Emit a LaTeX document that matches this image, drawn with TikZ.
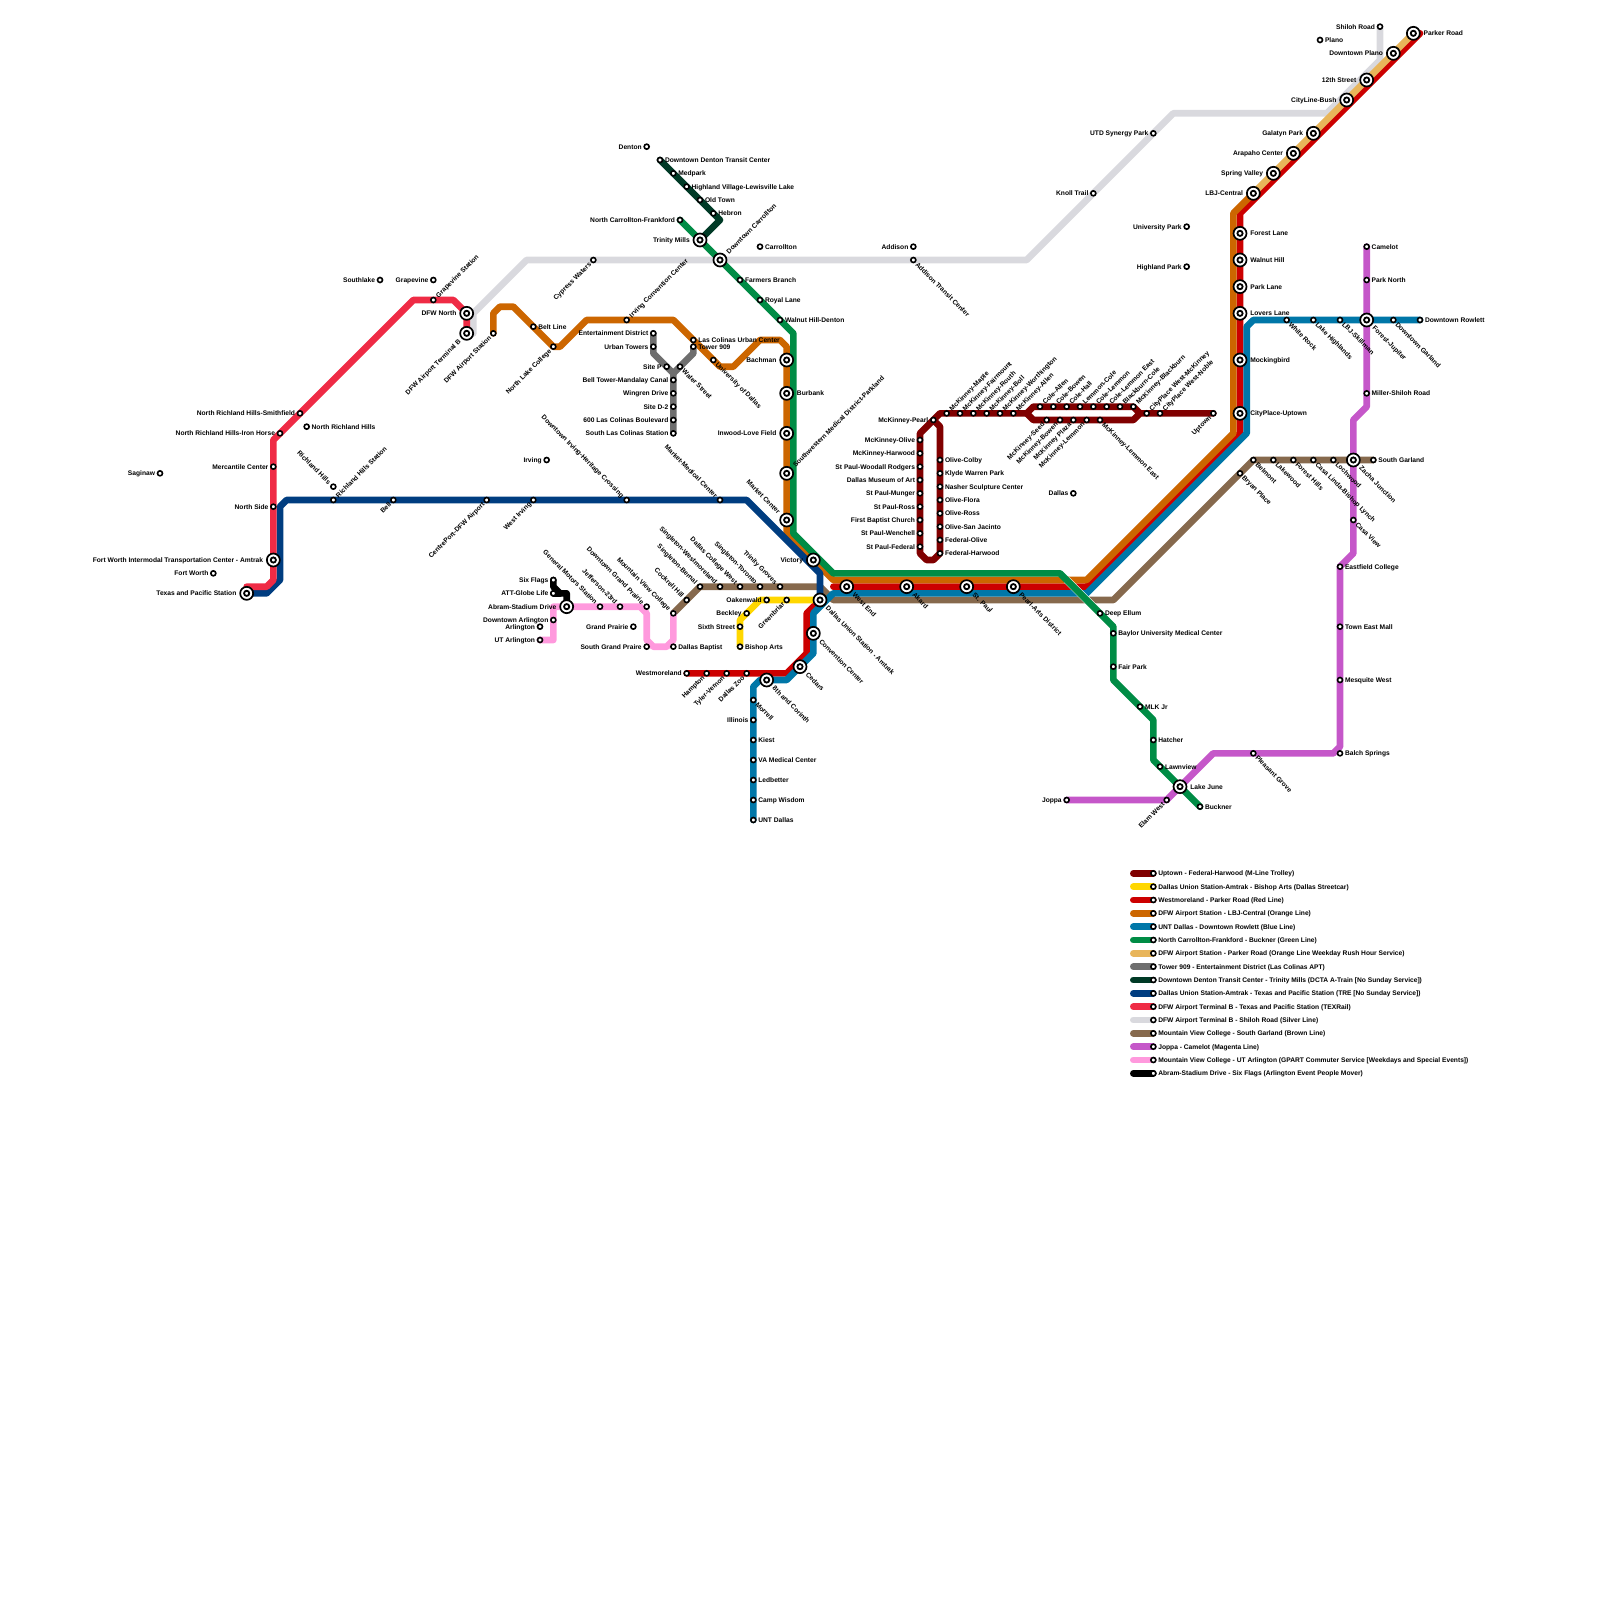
\documentclass[tikz,border=0pt]{standalone}
\usepackage{fontspec}
\setmainfont{Liberation Sans}
\definecolor{cTrolley}{HTML}{800000}
\definecolor{cYellow}{HTML}{FFD700}
\definecolor{cRed}{HTML}{CC0000}
\definecolor{cOrange}{HTML}{CC6600}
\definecolor{cBlue}{HTML}{0077A8}
\definecolor{cGreen}{HTML}{008C45}
\definecolor{cRush}{HTML}{E8B55A}
\definecolor{cApt}{HTML}{6E6E6E}
\definecolor{cDcta}{HTML}{003A26}
\definecolor{cTre}{HTML}{003D80}
\definecolor{cTex}{HTML}{EF2B45}
\definecolor{cSilver}{HTML}{D9D9DE}
\definecolor{cBrown}{HTML}{86694D}
\definecolor{cMagenta}{HTML}{C557C9}
\definecolor{cPink}{HTML}{FF99DD}
\pgfdeclarelayer{lines}
\pgfsetlayers{lines,main}
\tikzset{
  route/.style={draw=#1,line width=6.667pt,line cap=round,line join=round},
  sm/.style={circle,draw=black,fill=white,line width=1.6pt,minimum size=5pt,inner sep=0pt,outer sep=0pt},
  bigo/.style={circle,draw=black,fill=white,line width=1.7pt,minimum size=13pt,inner sep=0pt,outer sep=0pt},
  bigi/.style={circle,draw=black,fill=white,line width=1.8pt,minimum size=5.2pt,inner sep=0pt,outer sep=0pt},
  lab/.style={font=\fontsize{6.667}{8}\selectfont\bfseries,text=black,inner xsep=5pt,inner ysep=0pt,outer sep=0pt,yshift=0.3pt},
  biglab/.style={inner xsep=10.3pt},
  posL/.style={anchor=mid east},
  posR/.style={anchor=mid west},
  posUL/.style={rotate=-45,anchor=mid east},
  posUR/.style={rotate=45,anchor=mid west},
  posLL/.style={rotate=45,anchor=mid east},
  posLR/.style={rotate=-45,anchor=mid west},
}
\newcommand{\st}[4]{\node[sm] (#1) at (#2) {}; \node[lab,#3] (#1t) at (#1.center) {#4};}
\newcommand{\ic}[4]{\node[bigo] (#1) at (#2) {}; \node[bigi] (#1i) at (#1.center) {}; \node[lab,biglab,#3] (#1t) at (#1.center) {#4};}
\newcommand{\leg}[4]{\coordinate (#1s) at (170,#2); \node[sm] (#1) at (173,#2) {}; \node[lab,posR] (#1t) at (#1.center) {#4};
  \begin{pgfonlayer}{lines}\draw[route=#3] (#1s) -- (#1.center);\end{pgfonlayer}}
\begin{document}
\begin{tikzpicture}[x=6.66667pt,y=-6.66667pt]
\useasboundingbox (0,0) rectangle (240,240);
% West
\st{southlake}{57,42}{posL}{Southlake}
\st{grapevine}{65,42}{posL}{Grapevine}
\st{grapest}{65,45}{posUR}{Grapevine Station}
\ic{dfwn}{70,47}{posL}{DFW North}
\ic{dfwb}{70,50}{posLL}{DFW Airport Terminal B}
\st{dfwa}{74,50}{posLL}{DFW Airport Station}
\st{beltl}{80,49}{posR}{Belt Line}
\st{nlake}{83,52}{posLL}{North Lake College}
\st{cypress}{89,39}{posLL}{Cypress Waters}
\st{nrhs}{45,62}{posL}{North Richland Hills-Smithfield}
\st{nrh}{46,64}{posR}{North Richland Hills}
\st{nrhi}{42,65}{posL}{North Richland Hills-Iron Horse}
\st{merc}{41,70}{posL}{Mercantile Center}
\st{saginaw}{24,71}{posL}{Saginaw}
\st{richh}{50,73}{posUL}{Richland Hills}
\st{richs}{50,75}{posUR}{Richland Hills Station}
\st{bell}{59,75}{posLL}{Bell}
\st{centre}{73,75}{posLL}{CentrePort-DFW Airport}
\st{wirving}{80,75}{posLL}{West Irving}
\st{nside}{41,76}{posL}{North Side}
\st{irving}{82,69}{posL}{Irving}
\ic{fwit}{41,84}{posL}{Fort Worth Intermodal Transportation Center - Amtrak}
\st{fw}{32,86}{posL}{Fort Worth}
\ic{tp}{37,89}{posL}{Texas and Pacific Station}
\st{six}{83,87}{posL}{Six Flags}
\st{att}{83,89}{posL}{ATT-Globe Life}
\ic{abram}{85,91}{posL}{Abram-Stadium Drive}
\st{dtarl}{83,93}{posL}{Downtown Arlington}
\st{arl}{81,94}{posL}{Arlington}
\st{utarl}{81,96}{posL}{UT Arlington}
\st{gm}{90,91}{posUL}{General Motors Station}
% North
\st{denton}{97,22}{posL}{Denton}
\st{dtden}{99,24}{posR}{Downtown Denton Transit Center}
\st{medpark}{101,26}{posR}{Medpark}
\st{highl}{103,28}{posR}{Highland Village-Lewisville Lake}
\st{oldtown}{105,30}{posR}{Old Town}
\st{hebron}{107,32}{posR}{Hebron}
\st{ncf}{102,33}{posL}{North Carrollton-Frankford}
\ic{trinity}{105,36}{posL}{Trinity Mills}
\ic{dtcar}{108,39}{posUR}{Downtown Carrollton}
\st{carr}{114,37}{posR}{Carrollton}
\st{addison}{137,37}{posL}{Addison}
\st{addtc}{137,39}{posLR}{Addison Transit Center}
\st{farmers}{111,42}{posR}{Farmers Branch}
\st{royal}{114,45}{posR}{Royal Lane}
\st{wnutd}{117,48}{posR}{Walnut Hill-Denton}
\st{ircc}{94,48}{posUR}{Irving Convention Center}
\st{ent}{98,50}{posL}{Entertainment District}
\st{urban}{98,52}{posL}{Urban Towers}
\st{sitep}{100,55}{posL}{Site P}
\st{water}{102,55}{posLR}{Water Street}
\st{lcuc}{104,51}{posR}{Las Colinas Urban Center}
\st{tower}{104,52}{posR}{Tower 909}
\st{uod}{107,54}{posLR}{University of Dallas}
\ic{bachman}{118,54}{posL}{Bachman}
\ic{burbank}{118,59}{posR}{Burbank}
\ic{inwood}{118,65}{posL}{Inwood-Love Field}
\ic{swmed}{118,71}{posUR}{Southwestern Medical District-Parkland}
\st{belltw}{101,57}{posL}{Bell Tower-Mandalay Canal}
\st{wingren}{101,59}{posL}{Wingren Drive}
\st{sited}{101,61}{posL}{Site D-2}
\st{lc600}{101,63}{posL}{600 Las Colinas Boulevard}
\st{slc}{101,65}{posL}{South Las Colinas Station}
% Centre
\st{dtirv}{94,75}{posUL}{Downtown Irving-Heritage Crossing}
\st{mktmed}{108,75}{posUL}{Market-Medical Center}
\ic{market}{118,78}{posUL}{Market Center}
\ic{victory}{122,84}{posL}{Victory}
\st{tgrove}{117,88}{posUL}{Trinity Groves}
\st{storonto}{114,88}{posUL}{Singleton-Toronto}
\st{dcw}{111,88}{posUL}{Dallas College West}
\st{swest}{108,88}{posUL}{Singleton-Westmoreland}
\st{sbern}{105,88}{posUL}{Singleton-Bernal}
\st{cockrell}{103,90}{posUL}{Cockrell Hill}
\st{mvc}{101,92}{posUL}{Mountain View College}
\st{dtgp}{97,91}{posUL}{Downtown Grand Prairie}
\st{jeff}{93,91}{posUL}{Jefferson-23rd}
\st{gp}{95,94}{posL}{Grand Prairie}
\st{sgp}{97,97}{posL}{South Grand Praire}
\st{dbap}{101,97}{posR}{Dallas Baptist}
\st{oak}{115,90}{posL}{Oakenwald}
\st{green}{118,90}{posLL}{Greenbriar}
\st{beckley}{112,92}{posL}{Beckley}
\st{sixth}{111,94}{posL}{Sixth Street}
\st{bishop}{111,97}{posR}{Bishop Arts}
\ic{union}{123,90}{posLR}{Dallas Union Station - Amtrak}
\ic{conv}{122,95}{posLR}{Convention Center}
\ic{cedars}{120,100}{posLR}{Cedars}
\ic{eighth}{115,102}{posLR}{8th and Corinth}
\st{westm}{103,101}{posL}{Westmoreland}
\st{hampton}{106,101}{posLL}{Hampton}
\st{tyler}{109,101}{posLL}{Tyler-Vernon}
\st{zoo}{112,101}{posLL}{Dallas Zoo}
\st{morrell}{113,105}{posLR}{Morrell}
\st{illinois}{113,108}{posL}{Illinois}
\st{kiest}{113,111}{posR}{Kiest}
\st{vamc}{113,114}{posR}{VA Medical Center}
\st{ledb}{113,117}{posR}{Ledbetter}
\st{camp}{113,120}{posR}{Camp Wisdom}
\st{unt}{113,123}{posR}{UNT Dallas}
\ic{westend}{127,88}{posLR}{West End}
\ic{akard}{136,88}{posLR}{Akard}
\ic{stpaul}{145,88}{posLR}{St. Paul}
\ic{pearl}{152,88}{posLR}{Pearl-Arts District}
% Trolley
\st{mpearl}{140,63}{posL}{McKinney-Pearl}
\st{mmaple}{142,62}{posUR}{McKinney-Maple}
\st{mfair}{144,62}{posUR}{McKinney-Fairmount}
\st{mrouth}{146,62}{posUR}{McKinney-Routh}
\st{mboll}{148,62}{posUR}{McKinney-Boll}
\st{mworth}{150,62}{posUR}{McKinney-Worthington}
\st{mallen}{152,62}{posUR}{McKinney-Allen}
\st{callen}{156,61}{posUR}{Cole-Allen}
\st{cbowen}{158,61}{posUR}{Cole-Bowen}
\st{chall}{160,61}{posUR}{Cole-Hall}
\st{lcole}{162,61}{posUR}{Lemmon-Cole}
\st{clem}{164,61}{posUR}{Cole-Lemmon}
\st{cleme}{166,61}{posUR}{Cole-Lemmon East}
\st{bcole}{168,61}{posUR}{Blackburn-Cole}
\st{mblack}{170,61}{posUR}{McKinney-Blackburn}
\st{cpwm}{172,62}{posUR}{CityPlace West-McKinney}
\st{cpwn}{174,62}{posUR}{CityPlace West-Noble}
\st{uptown}{182,62}{posLL}{Uptown}
\st{mseed}{157,63}{posLL}{McKinney-Seed}
\st{mbowen}{159,63}{posLL}{McKinney-Bowen}
\st{mplaza}{161,63}{posLL}{McKinney Plaza}
\st{mlem}{163,63}{posLL}{McKinney-Lemmon}
\st{mleme}{165,63}{posLR}{McKinney-Lemmon East}
\st{molive}{138,66}{posL}{McKinney-Olive}
\st{mharw}{138,68}{posL}{McKinney-Harwood}
\st{spwr}{138,70}{posL}{St Paul-Woodall Rodgers}
\st{dma}{138,72}{posL}{Dallas Museum of Art}
\st{spm}{138,74}{posL}{St Paul-Munger}
\st{spr}{138,76}{posL}{St Paul-Ross}
\st{fbc}{138,78}{posL}{First Baptist Church}
\st{spw}{138,80}{posL}{St Paul-Wenchell}
\st{spf}{138,82}{posL}{St Paul-Federal}
\st{ocolby}{141,69}{posR}{Olive-Colby}
\st{klyde}{141,71}{posR}{Klyde Warren Park}
\st{nasher}{141,73}{posR}{Nasher Sculpture Center}
\st{oflora}{141,75}{posR}{Olive-Flora}
\st{oross}{141,77}{posR}{Olive-Ross}
\st{osj}{141,79}{posR}{Olive-San Jacinto}
\st{folive}{141,81}{posR}{Federal-Olive}
\st{fharw}{141,83}{posR}{Federal-Harwood}
\st{dallas}{161,74}{posL}{Dallas}
% North-east
\st{shiloh}{207,4}{posL}{Shiloh Road}
\st{plano}{198,6}{posR}{Plano}
\ic{parker}{212,5}{posR}{Parker Road}
\ic{dtplano}{209,8}{posL}{Downtown Plano}
\ic{twelfth}{205,12}{posL}{12th Street}
\ic{cityline}{202,15}{posL}{CityLine-Bush}
\st{utd}{173,20}{posL}{UTD Synergy Park}
\ic{galatyn}{197,20}{posL}{Galatyn Park}
\ic{arapaho}{194,23}{posL}{Arapaho Center}
\ic{spring}{191,26}{posL}{Spring Valley}
\ic{lbj}{188,29}{posL}{LBJ-Central}
\st{knoll}{164,29}{posL}{Knoll Trail}
\st{upark}{178,34}{posL}{University Park}
\ic{forestl}{186,35}{posR}{Forest Lane}
\st{hpark}{178,40}{posL}{Highland Park}
\ic{walnut}{186,39}{posR}{Walnut Hill}
\ic{parkl}{186,43}{posR}{Park Lane}
\ic{lovers}{186,47}{posR}{Lovers Lane}
\st{camelot}{205,37}{posR}{Camelot}
\st{parkn}{205,42}{posR}{Park North}
\st{white}{193,48}{posLR}{White Rock}
\st{lakeh}{197,48}{posLR}{Lake Highlands}
\st{skill}{201,48}{posLR}{LBJ-Skillman}
\ic{forestj}{205,48}{posLR}{Forest-Jupiter}
\st{dtgar}{209,48}{posLR}{Downtown Garland}
\st{rowlett}{213,48}{posR}{Downtown Rowlett}
\ic{mocking}{186,54}{posR}{Mockingbird}
\ic{cpu}{186,62}{posR}{CityPlace-Uptown}
\st{miller}{205,59}{posR}{Miller-Shiloh Road}
\st{belmont}{188,69}{posLR}{Belmont}
\st{bryan}{186,71}{posLR}{Bryan Place}
\st{lakew}{191,69}{posLR}{Lakewood}
\st{foresth}{194,69}{posLR}{Forest Hills}
\st{casal}{197,69}{posLR}{Casa Linda-Bishop Lynch}
\st{lochw}{200,69}{posLR}{Lochwood}
\ic{zacha}{203,69}{posLR}{Zacha Junction}
\st{sgar}{206,69}{posR}{South Garland}
\st{casav}{203,78}{posLR}{Casa View}
% South-east
\st{deep}{165,92}{posR}{Deep Ellum}
\st{baylor}{167,95}{posR}{Baylor University Medical Center}
\st{fairp}{167,100}{posR}{Fair Park}
\st{mlk}{171,106}{posR}{MLK Jr}
\st{hatcher}{173,111}{posR}{Hatcher}
\st{lawn}{174,115}{posR}{Lawnview}
\ic{lakej}{177,118}{posR}{Lake June}
\st{buckner}{180,121}{posR}{Buckner}
\st{elam}{175,120}{posLL}{Elam West}
\st{joppa}{160,120}{posL}{Joppa}
\st{pleasant}{188,113}{posLR}{Pleasant Grove}
\st{balch}{201,113}{posR}{Balch Springs}
\st{mesq}{201,102}{posR}{Mesquite West}
\st{teast}{201,94}{posR}{Town East Mall}
\st{eastf}{201,85}{posR}{Eastfield College}
% free ends
\coordinate (silverstart) at (71,50);
\coordinate (texend) at (37,88);
\coordinate (redresume) at (125,88);
\coordinate (redend) at (213,5);
\begin{pgfonlayer}{lines}
\draw[route=cSilver] (silverstart) -- (71,47) -- (79,39) -- (154,39) -- (176,17) -- (199,17) -- (207,9) -- (shiloh.center);
\draw[route=cBrown] (mvc.center) -- (105,88) -- (123,88) -- (125,90) -- (167,90) -- (188,69) -- (sgar.center);
\draw[route=cRed] (westm.center) -- (118,101) -- (121,98) -- (121,92) -- (union.center);
\draw[route=cRed] (redresume) -- (163,88) -- (186,65) -- (186,32) -- (redend);
\draw[route=cOrange] (dfwa.center) -- (74,47) -- (75,46) -- (77,46) -- (83,52) -- (84,52) -- (88,48) -- (101,48) -- (108,55) -- (110,55) -- (114,51) -- (117,51) -- (118,52) -- (118,80) -- (125,87) -- (163,87) -- (185,65) -- (185,32) -- (lbj.center);
\draw[route=cRush] (lbj.center) -- (parker.center);
\draw[route=cBlue] (unt.center) -- (113,103) -- (114,102) -- (118,102) -- (122,98) -- (122,92) -- (125,89) -- (163,89) -- (187,65) -- (187,49) -- (188,48) -- (rowlett.center);
\draw[route=cMagenta] (camelot.center) -- (205,61) -- (203,63) -- (203,83) -- (201,85) -- (201,112) -- (200,113) -- (182,113) -- (175,120) -- (joppa.center);
\draw[route=cYellow] (union.center) -- (114,90) -- (111,93) -- (bishop.center);
\draw[route=cTre] (tp.center) -- (40,89) -- (42,87) -- (42,76) -- (43,75) -- (112,75) -- (123,86) -- (union.center);
\draw[route=cTex] (dfwb.center) -- (70,47) -- (68,45) -- (62,45) -- (41,66) -- (41,87) -- (40,88) -- (texend);
\draw[route=cApt] (ent.center) -- (98,53) -- (101,56) -- (slc.center);
\draw[route=cApt] (tower.center) -- (104,53) -- (101,56);
\draw[route=cDcta] (dtden.center) -- (108,33) -- (trinity.center);
\draw[white,line width=7.6pt] (160,87) -- (164,91);
\draw[route=cGreen] (ncf.center) -- (119,50) -- (119,80) -- (125,86) -- (159,86) -- (167,94) -- (167,102) -- (173,108) -- (173,114) -- (buckner.center);
\draw[route=cPink] (mvc.center) -- (101,96) -- (100,97) -- (98,97) -- (97,96) -- (97,92) -- (96,91) -- (83,91) -- (83,96) -- (utarl.center);
\draw[route=black] (six.center) -- (83,88) -- (84,89) -- (85,89) -- (abram.center);
\draw[route=black] (att.center) -- (84,89);
\draw[route=cTrolley] (uptown.center) -- (171,62) -- (170,61) -- (155,61) -- (154,62) -- (155,63) -- (170,63) -- (171,62);
\draw[route=cTrolley] (154,62) -- (141,62) -- (mpearl.center) -- (138,65) -- (138,83) -- (139,84) -- (140,84) -- (fharw.center) -- (141,64) -- (mpearl.center);
\end{pgfonlayer}
% Legend
\leg{la}{131}{cTrolley}{Uptown - Federal-Harwood (M-Line Trolley)}
\leg{lb}{133}{cYellow}{Dallas Union Station-Amtrak - Bishop Arts (Dallas Streetcar)}
\leg{lc}{135}{cRed}{Westmoreland - Parker Road (Red Line)}
\leg{ld}{137}{cOrange}{DFW Airport Station - LBJ-Central (Orange Line)}
\leg{le}{139}{cBlue}{UNT Dallas - Downtown Rowlett (Blue Line)}
\leg{lf}{141}{cGreen}{North Carrollton-Frankford - Buckner (Green Line)}
\leg{lg}{143}{cRush}{DFW Airport Station - Parker Road (Orange Line Weekday Rush Hour Service)}
\leg{lh}{145}{cApt}{Tower 909 - Entertainment District (Las Colinas APT)}
\leg{li}{147}{cDcta}{Downtown Denton Transit Center - Trinity Mills (DCTA A-Train [No Sunday Service])}
\leg{lj}{149}{cTre}{Dallas Union Station-Amtrak - Texas and Pacific Station (TRE [No Sunday Service])}
\leg{lk}{151}{cTex}{DFW Airport Terminal B - Texas and Pacific Station (TEXRail)}
\leg{ll}{153}{cSilver}{DFW Airport Terminal B - Shiloh Road (Silver Line)}
\leg{lm}{155}{cBrown}{Mountain View College - South Garland (Brown Line)}
\leg{ln}{157}{cMagenta}{Joppa - Camelot (Magenta Line)}
\leg{lo}{159}{cPink}{Mountain View College - UT Arlington (GPART Commuter Service [Weekdays and Special Events])}
\leg{lp}{161}{black}{Abram-Stadium Drive - Six Flags (Arlington Event People Mover)}
\end{tikzpicture}
\end{document}
